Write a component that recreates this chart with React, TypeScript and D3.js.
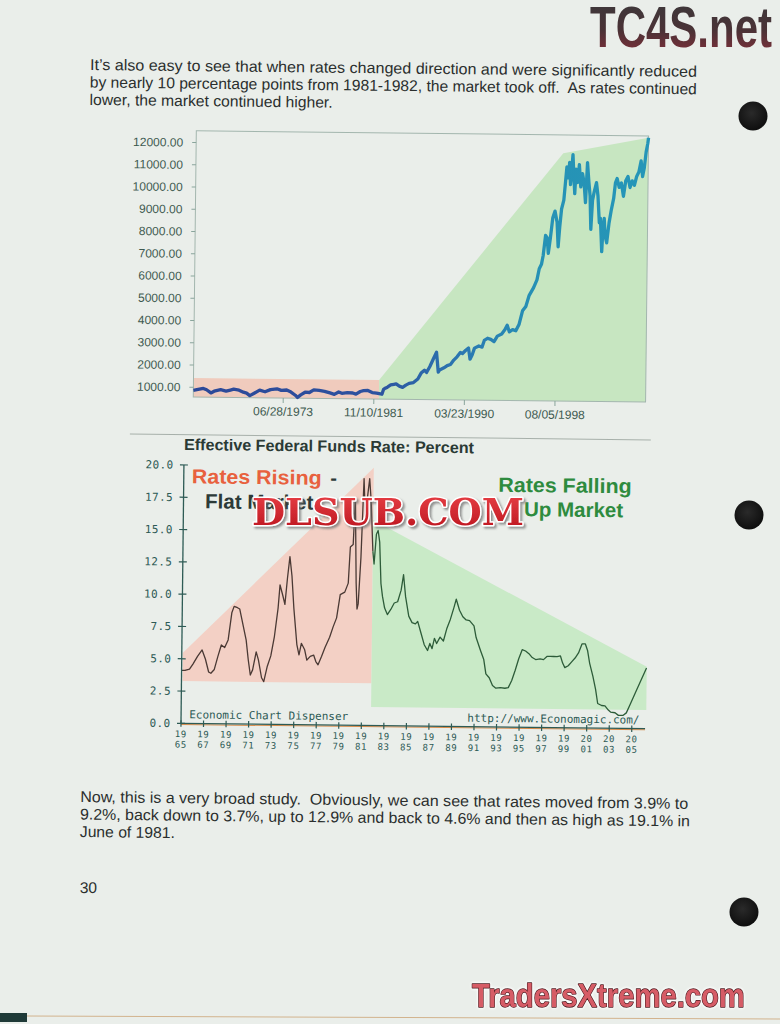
import React from "react";
import * as d3 from "d3";

// ---------- Dow Jones Industrial Average (decimal year, index level) ----------
const djiaYears = [
  1965.18, 1965.5, 1966.1, 1966.4, 1966.8, 1967.1, 1967.7, 1968.2, 1968.6, 1968.9,
  1969.4, 1969.8, 1970.1, 1970.4, 1970.8, 1971.3, 1971.8, 1972.3, 1972.9, 1973.3,
  1973.8, 1974.2, 1974.6, 1974.8, 1975.1, 1975.5, 1975.9, 1976.3, 1976.8, 1977.3,
  1977.8, 1978.2, 1978.6, 1978.9, 1979.4, 1979.9, 1980.2, 1980.6, 1980.9, 1981.3,
  1981.7, 1982.1, 1982.6,
  1982.75, 1982.9, 1983.1, 1983.4, 1983.7, 1983.9, 1984.2, 1984.5, 1984.8, 1985.1,
  1985.5, 1985.9, 1986.2, 1986.5, 1986.7, 1987.0, 1987.3, 1987.6, 1987.78, 1987.9,
  1988.3, 1988.6, 1988.9, 1989.2, 1989.5, 1989.8, 1990.0, 1990.3, 1990.55, 1990.7,
  1990.9, 1991.1, 1991.5, 1991.8, 1992.0, 1992.3, 1992.6, 1992.9, 1993.2, 1993.6,
  1993.9, 1994.1, 1994.3, 1994.6, 1994.9, 1995.2, 1995.5, 1995.8, 1996.1, 1996.5,
  1996.8, 1997.0, 1997.2, 1997.35, 1997.55, 1997.7, 1997.82, 1998.0, 1998.2, 1998.4,
  1998.6, 1998.72, 1998.85, 1999.0, 1999.2, 1999.35, 1999.45, 1999.6, 1999.7, 1999.8,
  2000.0, 2000.1, 2000.2, 2000.3, 2000.45, 2000.6, 2000.75, 2000.9, 2001.05, 2001.2,
  2001.35, 2001.5, 2001.62, 2001.72, 2001.85, 2002.0, 2002.2, 2002.35, 2002.5, 2002.6,
  2002.75, 2002.85, 2002.95, 2003.05, 2003.2, 2003.4, 2003.6, 2003.8, 2003.95, 2004.1,
  2004.3, 2004.5, 2004.7, 2004.9, 2005.1, 2005.3, 2005.5, 2005.7, 2005.9, 2006.1,
  2006.3, 2006.45, 2006.6, 2006.75, 2006.9, 2006.96,
];
const djiaValues = [
  860, 890, 950, 890, 750, 830, 900, 840, 890, 930,
  890, 800, 760, 650, 760, 900, 830, 930, 970, 900,
  920, 830, 690, 590, 710, 830, 820, 940, 920, 880,
  810, 750, 860, 800, 830, 820, 770, 890, 930, 940,
  850, 830, 780,
  1000, 1050, 1100, 1200, 1230, 1250, 1150, 1100, 1200, 1280,
  1320, 1480, 1750, 1880, 1780, 2050, 2380, 2700, 1800, 1900,
  2000, 2100, 2150, 2350, 2500, 2700, 2650, 2800, 2900, 2400,
  2600, 2900, 3000, 2950, 3250, 3350, 3300, 3200, 3450, 3550,
  3750, 3950, 3650, 3750, 3700, 4000, 4600, 4800, 5300, 5650,
  6000, 6500, 6700, 7100, 8000, 7900, 7200, 7900, 8800, 9100,
  8600, 7500, 8400, 9200, 9600, 10500, 11100, 10600, 11300, 10300,
  11650, 10700, 9900, 11000, 10400, 11200, 10200, 10800, 10400, 9500,
  11300, 10400, 9800, 8300, 9600, 10000, 10400, 9800, 8600, 8800,
  7300, 8400, 8800, 8000, 7700, 8600, 9200, 9700, 10400, 10600,
  10200, 10400, 9800, 10500, 10700, 10200, 10500, 10300, 10700, 10900,
  11400, 10700, 11100, 11800, 12200, 12450,
];
const djiaDateTicks = ["06/28/1973", "11/10/1981", "03/23/1990", "08/05/1998"];
const djiaValueTicks = [1000, 2000, 3000, 4000, 5000, 6000, 7000, 8000, 9000, 10000, 11000, 12000];

// shaded phases behind the index
const flatPhaseYears = [1965.18, 1982.33];
const flatPhaseLevels = [1412, 1412];
const upPhaseYears = [1982.33, 1999.1, 2006.96];
const upPhaseLevels = [1420, 11710, 12450];

// ---------- Effective Federal Funds Rate (decimal year, percent) ----------
const rateYears = [
  1965.0, 1965.3, 1965.7, 1966.0, 1966.4, 1966.8, 1967.1, 1967.4, 1967.6, 1967.9,
  1968.2, 1968.5, 1968.8, 1969.1, 1969.4, 1969.6, 1969.9, 1970.1, 1970.4, 1970.7,
  1970.9, 1971.1, 1971.3, 1971.6, 1971.8, 1972.1, 1972.3, 1972.6, 1972.9, 1973.2,
  1973.5, 1973.65, 1973.9, 1974.1, 1974.3, 1974.5, 1974.7, 1974.9, 1975.2, 1975.4,
  1975.6, 1975.9, 1976.1, 1976.4, 1976.7, 1976.9, 1977.1, 1977.4, 1977.7, 1978.1,
  1978.4, 1978.7, 1979.0, 1979.4, 1979.7, 1979.85, 1980.1, 1980.25, 1980.4, 1980.5,
  1980.6, 1980.8, 1981.0, 1981.15, 1981.3, 1981.5, 1981.65, 1981.85, 1981.97, 1982.15,
  1982.3, 1982.45, 1982.6, 1982.75, 1982.95, 1983.2, 1983.5, 1983.8, 1984.1, 1984.4,
  1984.6, 1984.8, 1985.1, 1985.4, 1985.7, 1985.9, 1986.2, 1986.5, 1986.8, 1987.0,
  1987.2, 1987.4, 1987.6, 1987.9, 1988.2, 1988.5, 1988.8, 1989.1, 1989.3, 1989.6,
  1989.9, 1990.2, 1990.5, 1990.9, 1991.1, 1991.5, 1991.8, 1992.0, 1992.3, 1992.6,
  1992.9, 1993.3, 1993.7, 1994.0, 1994.3, 1994.6, 1994.9, 1995.2, 1995.5, 1995.8,
  1996.1, 1996.4, 1996.8, 1997.1, 1997.4, 1997.7, 1998.0, 1998.3, 1998.6, 1998.8,
  1999.0, 1999.3, 1999.6, 1999.9, 2000.2, 2000.5, 2000.8, 2001.0, 2001.2, 2001.5,
  2001.75, 2001.95, 2002.3, 2002.6, 2002.9, 2003.1, 2003.5, 2003.8, 2004.2, 2004.5,
  2004.8, 2005.1, 2005.4, 2005.8, 2006.25,
];
const rateValues = [
  4.1, 4.1, 4.2, 4.6, 5.2, 5.7, 5.0, 4.0, 3.9, 4.2,
  5.2, 6.1, 5.9, 6.5, 8.6, 9.1, 9.0, 8.9, 7.7, 6.5,
  5.0, 3.8, 4.2, 5.6, 5.0, 3.6, 3.3, 4.5, 5.3, 6.8,
  9.0, 10.8, 10.0, 9.3, 11.3, 13.0, 11.5, 9.0, 6.2, 5.4,
  6.3, 5.8, 5.0, 5.3, 5.4, 4.9, 4.65, 5.3, 6.0, 6.8,
  7.6, 8.3, 10.1, 10.3, 11.0, 13.8, 14.0, 17.6, 11.0, 9.0,
  9.4, 13.0, 19.1, 16.0, 17.5, 19.1, 17.4, 13.5, 12.5, 14.8,
  15.1, 14.2, 11.0, 10.0, 9.1, 8.6, 9.0, 9.5, 9.6, 10.5,
  11.7, 10.0, 8.5, 8.0, 7.9, 8.1, 7.2, 6.3, 5.85, 6.4,
  6.0, 6.8, 6.4, 6.9, 6.6, 7.6, 8.3, 9.2, 9.85, 9.0,
  8.5, 8.25, 8.2, 7.8, 6.9, 5.9, 5.2, 4.1, 3.8, 3.2,
  3.0, 3.05, 3.0, 3.05, 3.6, 4.4, 5.3, 6.0, 5.9, 5.7,
  5.4, 5.25, 5.3, 5.25, 5.5, 5.5, 5.5, 5.5, 5.55, 5.0,
  4.65, 4.8, 5.1, 5.4, 5.8, 6.5, 6.5, 6.0, 5.0, 4.0,
  3.0, 1.9, 1.75, 1.72, 1.4, 1.25, 1.2, 1.0, 1.0, 1.2,
  1.8, 2.4, 3.0, 3.8, 4.7,
];
const rateTicks = [0, 2.5, 5, 7.5, 10, 12.5, 15, 17.5, 20];
const yearTicks = [1965, 1967, 1969, 1971, 1973, 1975, 1977, 1979, 1981, 1983, 1985, 1987, 1989, 1991, 1993, 1995, 1997, 1999, 2001, 2003, 2005];
const turnYear = 1981.9;

// regime wedges behind the rate line
const risingWedgeYears = [1965.1, 1965.1, 1981.85, 1981.85];
const risingWedgeRates = [3.27, 5.47, 19.95, 3.27];
const fallingWedgeYears = [1981.85, 2006.27, 2006.27, 1981.85];
const fallingWedgeRates = [15.9, 4.79, 1.44, 1.44];

// body copy: [text, fitted width]
const paragraphOne: [string, number][] = [
  ["It\u2019s also easy to see that when rates changed direction and were significantly reduced", 607],
  ["by nearly 10 percentage points from 1981-1982, the market took off.  As rates continued", 607],
  ["lower, the market continued higher.", 243],
];
const paragraphTwo: [string, number][] = [
  ["Now, this is a very broad study.  Obviously, we can see that rates moved from 3.9% to", 608],
  ["9.2%, back down to 3.7%, up to 12.9% and back to 4.6% and then as high as 19.1% in", 610],
  ["June of 1981.", 95],
];

const SANS = "'Liberation Sans', Arial, Helvetica, sans-serif";
const MONO = "'DejaVu Sans Mono', 'Liberation Mono', monospace";
const PAGE = "#eaeeea";
const INK = "#2b2f2e";

function dateToYear(s: string): number {
  const d = d3.timeParse("%m/%d/%Y")(s) as Date;
  const y = d.getFullYear();
  const a = new Date(y, 0, 1).getTime();
  const b = new Date(y + 1, 0, 1).getTime();
  return y + (d.getTime() - a) / (b - a);
}

function BodyLines({ lines, x, y0 }: { lines: [string, number][]; x: number; y0: number }) {
  return (
    <text x={x} y={y0} fontFamily={SANS} fontSize={15.6} fill={INK} style={{ whiteSpace: "pre" }}>
      {lines.map(([t, w], i) => (
        <tspan key={t} x={x} y={y0 + i * 17.5} textLength={w} lengthAdjust="spacingAndGlyphs">
          {t}
        </tspan>
      ))}
    </text>
  );
}

function DowChart() {
  const x = d3.scaleLinear().domain([1965.18, 2006.96]).range([192, 644.3]);
  const y = d3.scaleLinear().domain([560, 12530]).range([399.2, 133]);
  const pts = djiaYears.map((yr, i) => [yr, djiaValues[i]] as [number, number]);
  const line = d3.line<[number, number]>().x((d) => x(d[0])).y((d) => y(d[1]));
  const bottom = y.range()[0];
  const flat = `M${x(flatPhaseYears[0])},${bottom}L${x(flatPhaseYears[0])},${y(flatPhaseLevels[0])}L${x(flatPhaseYears[1])},${y(flatPhaseLevels[1])}L${x(flatPhaseYears[1])},${bottom}Z`;
  const up =
    `M${x(upPhaseYears[0])},${bottom}` +
    upPhaseYears.map((yr, i) => `L${x(yr)},${y(upPhaseLevels[i])}`).join("") +
    `L${x(upPhaseYears[2])},${bottom}Z`;
  const stop = (yr: number) => (x(yr) - 192) / 452.3;
  return (
    <g>
      <defs>
        <linearGradient id="dowInk" gradientUnits="userSpaceOnUse" x1={192} x2={644.3} y1={0} y2={0}>
          <stop offset="0" stopColor="#2c4898" />
          <stop offset={stop(1982)} stopColor="#2d529f" />
          <stop offset={stop(1990)} stopColor="#2b78b1" />
          <stop offset={stop(1997)} stopColor="#2692b5" />
          <stop offset="1" stopColor="#2596b8" />
        </linearGradient>
      </defs>
      <path d={flat} fill="#f0cbbd" />
      <path d={up} fill="#c7e6c1" />
      <rect x={192} y={133} width={452.3} height={bottom - 133} fill="none" stroke="#a3b6ae" strokeWidth={1} />
      <path d={line(pts) || ""} fill="none" stroke="url(#dowInk)" strokeWidth={3.3} strokeLinejoin="round" />
      {djiaValueTicks.map((v) => (
        <g key={v}>
          <line x1={188} x2={192} y1={y(v)} y2={y(v)} stroke="#8aa59c" />
          <text x={179} y={y(v)} dy="0.35em" textAnchor="end" fontFamily={SANS} fontSize={12} fill="#3e5a50">
            {d3.format(".2f")(v)}
          </text>
        </g>
      ))}
      {djiaDateTicks.map((s) => {
        const xx = x(dateToYear(s));
        return (
          <g key={s}>
            <line x1={xx} x2={xx} y1={bottom} y2={bottom + 5} stroke="#8aa59c" />
            <text x={xx} y={416.9} textAnchor="middle" fontFamily={SANS} fontSize={12} fill="#3e5a50">
              {s}
            </text>
          </g>
        );
      })}
    </g>
  );
}

function RateChart() {
  const x = d3.scaleLinear().domain([1965, 2006.18]).range([183.4, 647.5]);
  const y = d3.scaleLinear().domain([0, 20]).range([725.7, 467.3]);
  const pts = rateYears.map((yr, i) => [yr, rateValues[i]] as [number, number]);
  const line = d3.line<[number, number]>().x((d) => x(d[0])).y((d) => y(d[1]));
  const split = pts.findIndex((p) => p[0] > turnYear);
  const rising = pts.slice(0, split);
  const falling = pts.slice(split - 1);
  const wedge = (ys: number[], vs: number[]) =>
    ys.map((yr, i) => `${i ? "L" : "M"}${x(yr)},${y(vs[i])}`).join("") + "Z";
  const axisY = y(0);
  return (
    <g>
      <text x={183.3} y={452.3} fontFamily={SANS} fontWeight="bold" fontSize={16} fill="#2b3a35" textLength={290} lengthAdjust="spacingAndGlyphs">
        Effective Federal Funds Rate: Percent
      </text>
      <path d={wedge(risingWedgeYears, risingWedgeRates)} fill="#f3d0c5" />
      <path d={wedge(fallingWedgeYears, fallingWedgeRates)} fill="#c9eac7" />
      <path d={line(rising) || ""} fill="none" stroke="#4a3934" strokeWidth={1.3} strokeLinejoin="round" />
      <path d={line(falling) || ""} fill="none" stroke="#2d5c39" strokeWidth={1.3} strokeLinejoin="round" />

      {/* axes */}
      <line x1={x(1965)} x2={x(1965)} y1={y(20)} y2={axisY} stroke="#2e5b55" strokeWidth={1.3} />
      <line x1={x(1965)} x2={647.5} y1={axisY + 1.2} y2={axisY + 1.2} stroke="#d98b4a" strokeWidth={1} />
      <line x1={x(1965)} x2={647.5} y1={axisY} y2={axisY} stroke="#2e5b55" strokeWidth={1.2} />
      {rateTicks.map((v) => (
        <g key={v}>
          <line x1={x(1965) - 4} x2={x(1965) + 4} y1={y(v)} y2={y(v)} stroke="#2e5b55" strokeWidth={1.2} />
          <text x={173} y={y(v)} dy="0.35em" textAnchor="end" fontFamily={MONO} fontSize={11} letterSpacing={0.4} fill="#2d5a55">
            {d3.format(".1f")(v)}
          </text>
        </g>
      ))}
      {yearTicks.map((yr) => (
        <g key={yr}>
          <line x1={x(yr)} x2={x(yr)} y1={axisY - 3} y2={axisY + 3.5} stroke="#2e5b55" strokeWidth={1.2} />
          <text x={x(yr)} y={739.5} textAnchor="middle" fontFamily={MONO} fontSize={9} letterSpacing={0.6} fill="#2d5a55">
            {String(yr).slice(0, 2)}
          </text>
          <text x={x(yr)} y={750} textAnchor="middle" fontFamily={MONO} fontSize={9} letterSpacing={0.6} fill="#2d5a55">
            {String(yr).slice(2)}
          </text>
        </g>
      ))}
      <text x={191.6} y={720.6} fontFamily={MONO} fontSize={11} fill="#2d5a55">
        Economic Chart Dispenser
      </text>
      <text x={469.7} y={720.8} fontFamily={MONO} fontSize={11} fill="#2d5a55">
        http://www.Economagic.com/
      </text>

      {/* regime labels */}
      <text x={191.4} y={485.5} fontFamily={SANS} fontWeight="bold" fontSize={20} fill="#e8613e" textLength={130} lengthAdjust="spacingAndGlyphs">
        Rates Rising
      </text>
      <text x={330} y={485.5} fontFamily={SANS} fontWeight="bold" fontSize={20} fill="#2c3a38">
        -
      </text>
      <text x={205} y={510.4} fontFamily={SANS} fontWeight="bold" fontSize={20.5} fill="#2c3a38">
        Flat Market
      </text>
      <text x={498.1} y={490.5} fontFamily={SANS} fontWeight="bold" fontSize={20.5} fill="#2e8b3e" textLength={133.3} lengthAdjust="spacingAndGlyphs">
        Rates Falling
      </text>
      <text x={623.1} y={514.7} textAnchor="end" fontFamily={SANS} fontWeight="bold" fontSize={20.5} fill="#2e8b3e">
        Up Market
      </text>
    </g>
  );
}

export default function App() {
  return (
    <svg width={780} height={1024} viewBox="0 0 780 1024" style={{ position: "absolute", left: 0, top: 0, display: "block" }}>
      <defs>
        <linearGradient id="tcInk" x1="0" y1="0" x2="0" y2="1">
          <stop offset="0" stopColor="#3a3a3c" />
          <stop offset="0.55" stopColor="#4a3236" />
          <stop offset="1" stopColor="#8a2e3a" />
        </linearGradient>
        <linearGradient id="dlInk" x1="0" y1="0" x2="0" y2="1">
          <stop offset="0" stopColor="#ec4449" />
          <stop offset="1" stopColor="#b8121c" />
        </linearGradient>
        <radialGradient id="hole" cx="0.45" cy="0.4" r="0.6">
          <stop offset="0" stopColor="#2a2a2a" />
          <stop offset="1" stopColor="#0e0e0e" />
        </radialGradient>
        <filter id="dlShadow" x="-5%" y="-20%" width="110%" height="150%">
          <feDropShadow dx="2" dy="2" stdDeviation="0.8" floodColor="#6a6a6a" floodOpacity="0.7" />
        </filter>
      </defs>
      <rect width={780} height={1024} fill={PAGE} />

      <g transform="rotate(0.65 390 512)">
        <BodyLines lines={paragraphOne} x={85} y0={73.4} />
        <DowChart />
        <line x1={129} x2={650} y1={437} y2={437} stroke="#a7b0aa" strokeWidth={1} />
        <RateChart />
        <BodyLines lines={paragraphTwo} x={83.5} y0={805.5} />
        <text x={84} y={896.5} fontFamily={SANS} fontSize={15.6} fill={INK}>
          30
        </text>
      </g>

      {/* binder holes */}
      <circle cx={753} cy={116} r={14.5} fill="url(#hole)" />
      <circle cx={749} cy={515} r={14.5} fill="url(#hole)" />
      <circle cx={744} cy={912} r={14.5} fill="url(#hole)" />

      {/* overlaid marks */}
      <text transform="translate(590,47) scale(1,1.37)" x={0} y={0} fontFamily={SANS} fontWeight="bold" fontSize={42} fill="url(#tcInk)">
        TC4S.net
      </text>
      <text x={252} y={525} filter="url(#dlShadow)" fontFamily="'DejaVu Serif', serif" fontWeight="bold" fontSize={38} fill="url(#dlInk)" stroke="#ffffff" strokeWidth={3} paintOrder="stroke" strokeLinejoin="round" textLength={272} lengthAdjust="spacingAndGlyphs">
        DLSUB.COM
      </text>
      <text transform="translate(472,1007) scale(0.86,1)" x={0} y={0} fontFamily={SANS} fontWeight="bold" fontSize={34} fill="#d65c66" stroke="#4a1a1e" strokeWidth={1.4} strokeLinejoin="round" paintOrder="stroke" style={{ filter: "drop-shadow(0 0 1.5px #ffffff) drop-shadow(0 0 1px #ffffff)" }}>
        TradersXtreme.com
      </text>

      {/* scanner edge */}
      <rect x={0} y={1013} width={27} height={9} fill="#1f3a38" />
      <line x1={27} x2={780} y1={1016} y2={1019} stroke="#c89a66" strokeWidth={1} opacity={0.7} />
    </svg>
  );
}
